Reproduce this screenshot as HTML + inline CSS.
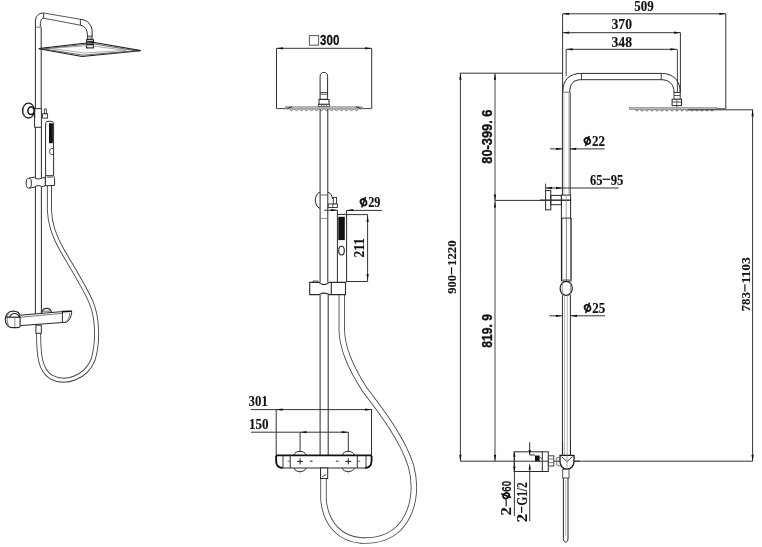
<!DOCTYPE html>
<html><head><meta charset="utf-8"><style>
html,body{margin:0;padding:0;background:#fff;}
svg{display:block;filter:grayscale(100%);}
</style></head><body>
<svg width="762" height="547" viewBox="0 0 762 547">
<rect width="762" height="547" fill="#fff"/>
<path d="M49.4,186 L49.4,210 C49.8,225 55,238 62,250 C70,264 84,286 91,302 C97,316 99,340 93,360 C86,377 66,385 51,377 C40,370 38.6,355 38.6,333" stroke="#444" stroke-width="5.0" fill="none" stroke-linecap="butt"/>
<path d="M49.4,186 L49.4,210 C49.8,225 55,238 62,250 C70,264 84,286 91,302 C97,316 99,340 93,360 C86,377 66,385 51,377 C40,370 38.6,355 38.6,333" stroke="#fff" stroke-width="3.2" fill="none" stroke-linecap="butt"/>
<path d="M35.4,27.2 L35.4,22 C35.4,16 38.5,13 43.6,13" stroke="#2a2a2a" stroke-width="1.0" fill="none" />
<path d="M40.3,27.2 L40.3,25.3 C40.3,21 41.5,18.2 43.6,18.2" stroke="#2a2a2a" stroke-width="1.0" fill="none" />
<line x1="35.4" y1="27.2" x2="40.3" y2="27.2" stroke="#555" stroke-width="0.8"/>
<line x1="43.6" y1="13" x2="43.6" y2="18.2" stroke="#2a2a2a" stroke-width="0.9"/>
<line x1="43.6" y1="13" x2="80.4" y2="19.3" stroke="#444" stroke-width="0.9"/>
<line x1="43.6" y1="18.2" x2="80.4" y2="25.2" stroke="#444" stroke-width="0.9"/>
<line x1="80.4" y1="19.3" x2="80.4" y2="25.2" stroke="#2a2a2a" stroke-width="0.9"/>
<path d="M80.4,19.3 C88,20 92.1,25 92.1,31.8 L92.1,36.1" stroke="#2a2a2a" stroke-width="1.0" fill="none" />
<path d="M80.4,25.2 C85,26 87.4,30 87.4,35.4 L87.4,36.1" stroke="#2a2a2a" stroke-width="1.0" fill="none" />
<rect x="87.4" y="36.1" width="4.7" height="3.6" stroke="#2a2a2a" stroke-width="0.9" fill="none"/>
<line x1="87.4" y1="38" x2="92.1" y2="38" stroke="#2a2a2a" stroke-width="0.7"/>
<rect x="86.6" y="39.7" width="6.8" height="8.2" stroke="#222" stroke-width="1.1" fill="#fff"/>
<line x1="86.6" y1="41.6" x2="93.4" y2="41.6" stroke="#222" stroke-width="1.0"/>
<line x1="86.6" y1="44.4" x2="93.4" y2="44.4" stroke="#111" stroke-width="1.4"/>
<path d="M38.7,48.6 L93,42.3 L140.8,50.6 L82,56.5 Z" stroke="#222" stroke-width="1.1" fill="none" />
<path d="M43,48.9 L92,43.6 L136,50.8 L83,55.2 Z" stroke="#555" stroke-width="0.9" fill="none" />
<path d="M50,48.4 L90,45.6 L126,50.4 L84,53.0 Z" stroke="#888" stroke-width="0.7" fill="none" />
<line x1="35.4" y1="27.2" x2="35.4" y2="315" stroke="#2a2a2a" stroke-width="1.0"/>
<line x1="41.2" y1="27.2" x2="41.2" y2="108.6" stroke="#2a2a2a" stroke-width="1.0"/>
<line x1="41.4" y1="127.3" x2="41.4" y2="315" stroke="#2a2a2a" stroke-width="1.0"/>
<rect x="34.6" y="108.6" width="6.8" height="18.7" stroke="#2a2a2a" stroke-width="1.0" fill="#fff"/>
<ellipse cx="28.5" cy="110.6" rx="6" ry="7.4" stroke="#222" stroke-width="1.3" fill="#fff"/>
<ellipse cx="31" cy="110.8" rx="3.1" ry="3.7" stroke="#111" stroke-width="1.5" fill="#fff"/>
<path d="M25,104.5 C22.5,108 22.5,113 25,117" stroke="#555" stroke-width="0.8" fill="none" />
<line x1="34.6" y1="108.6" x2="34.6" y2="118" stroke="#2a2a2a" stroke-width="1.2"/>
<rect x="42.6" y="113.7" width="5" height="4.4" stroke="#2a2a2a" stroke-width="0.9" fill="none"/>
<rect x="44.3" y="109" width="2" height="4.7" stroke="#2a2a2a" stroke-width="0.8" fill="none"/>
<path d="M45.6,175.5 L45.6,123.5 C45.6,121.6 47,121.3 49.6,121.3 C52.4,121.3 53.6,121.6 53.6,123.5 L53.6,175.5" stroke="#2a2a2a" stroke-width="1.0" fill="none" />
<rect x="49" y="123.3" width="3.9" height="19.9" stroke="#2a2a2a" stroke-width="0" fill="#111"/>
<path d="M53,148.2 C50.5,148.2 49.6,150 49.6,151.5 C49.6,153 50.5,154.7 53,154.7" stroke="#2a2a2a" stroke-width="0.9" fill="none" />
<path d="M29,178.2 L34.3,177.2 C35.5,179.2 40,179.6 41.4,178.2 L45.4,177.4 L45.4,185.8 L41.5,186.6 C40.5,185.2 36,185.2 34.3,187.2 L29,188.2" stroke="#2a2a2a" stroke-width="1.0" fill="#fff" />
<ellipse cx="28.8" cy="183.2" rx="2.6" ry="5.0" stroke="#2a2a2a" stroke-width="1" fill="#fff"/>
<path d="M45.4,175.6 L53.6,175.6 C54.4,176.5 54.6,178 54.6,180 L54.6,185.4 L45.4,185.8 Z" stroke="#2a2a2a" stroke-width="1.0" fill="#fff" />
<rect x="47" y="175.8" width="6" height="2.2" stroke="#2a2a2a" stroke-width="0" fill="#999"/>
<path d="M20.3,315.2 L62.2,311.6 L71.7,311.3 C71.7,315 70.5,319.5 66.5,322.2 L62.2,322.5 L20.3,325.6" stroke="#2a2a2a" stroke-width="1.0" fill="#fff" />
<line x1="20.3" y1="317.2" x2="62.2" y2="313.4" stroke="#555" stroke-width="0.8"/>
<line x1="62.4" y1="311.8" x2="62.4" y2="322.5" stroke="#2a2a2a" stroke-width="1.0"/>
<line x1="62.2" y1="311.6" x2="71.7" y2="311.3" stroke="#111" stroke-width="1.6"/>
<path d="M69.8,313 C69.5,316.5 68.6,319.5 65.8,321.8" stroke="#555" stroke-width="0.8" fill="none" />
<path d="M20.1,326 L20.1,317 C20.1,313 17,311.1 13,311.1 C8,311.1 5.3,315 5.3,319.5 C5.3,324 8,327.6 12,327.6 L17,327.6 C19,327.6 20.1,327 20.1,326 Z" stroke="#2a2a2a" stroke-width="1.1" fill="#fff" />
<line x1="5.3" y1="317.2" x2="20.1" y2="317.2" stroke="#222" stroke-width="1.2"/>
<path d="M9.5,317.2 C10.5,314.5 12.5,313.5 14.5,313.5 C16.5,313.5 18.5,314.5 19.5,317.2" stroke="#222" stroke-width="1.1" fill="none" />
<line x1="14.9" y1="318" x2="14.9" y2="326.8" stroke="#777" stroke-width="0.8"/>
<path d="M8.8,312.6 C6.6,316 6.6,323 9.2,326.5" stroke="#555" stroke-width="0.8" fill="none" />
<path d="M41.7,313.2 C42.2,310 44.5,308.4 46.6,308.4 C49,308.4 51,310 51.6,312.4" stroke="#2a2a2a" stroke-width="1.1" fill="none" />
<line x1="43" y1="311.2" x2="50.5" y2="311.2" stroke="#444" stroke-width="0.8"/>
<rect x="35.9" y="325.2" width="5.4" height="8.1" stroke="#2a2a2a" stroke-width="1.0" fill="#fff"/>
<path d="M341.8,294.8 L341.8,330 C342,350 352,370 365,390 C382,412 403,440 411,466 C417,488 414,512 399,528 C388,539 373,541 361,540.5 C341,539 326,525 323.5,500 L323.5,478" stroke="#444" stroke-width="6.4" fill="none" stroke-linecap="butt"/>
<path d="M341.8,294.8 L341.8,330 C342,350 352,370 365,390 C382,412 403,440 411,466 C417,488 414,512 399,528 C388,539 373,541 361,540.5 C341,539 326,525 323.5,500 L323.5,478" stroke="#fff" stroke-width="4.7" fill="none" stroke-linecap="butt"/>
<line x1="276.5" y1="48.3" x2="371.7" y2="48.3" stroke="#333" stroke-width="1.0"/>
<polygon points="276.50,48.30 283.00,47.15 283.00,49.45" fill="#111"/>
<polygon points="371.70,48.30 365.20,47.15 365.20,49.45" fill="#111"/>
<line x1="276.5" y1="48.3" x2="276.5" y2="108.6" stroke="#333" stroke-width="1.0"/>
<line x1="371.7" y1="48.3" x2="371.7" y2="108.6" stroke="#333" stroke-width="1.0"/>
<rect x="309.4" y="35.6" width="9.2" height="9.6" stroke="#555" stroke-width="1.0" fill="none"/>
<g class="lbl" transform="translate(320.1,45.1)"><text x="0.00" y="0" font-family='"Liberation Sans", sans-serif' font-weight="bold" font-size="14.85" textLength="19.20" lengthAdjust="spacingAndGlyphs" fill="#111" stroke="#111" stroke-width="0.3">300</text></g>
<path d="M320.1,106.6 L320.1,76.5 C320.1,73.8 321.5,72.4 323.85,72.4 C326.2,72.4 327.6,73.8 327.6,76.5 L327.6,106.6" stroke="#2a2a2a" stroke-width="1.0" fill="none" />
<line x1="320.1" y1="92.5" x2="327.6" y2="92.5" stroke="#2a2a2a" stroke-width="0.8"/>
<line x1="320.1" y1="94.2" x2="327.6" y2="94.2" stroke="#2a2a2a" stroke-width="0.8"/>
<line x1="320.1" y1="99.2" x2="327.6" y2="99.2" stroke="#2a2a2a" stroke-width="0.8"/>
<rect x="319" y="99.5" width="10" height="4.8" stroke="#2a2a2a" stroke-width="1.0" fill="#fff"/>
<rect x="318.5" y="104.3" width="11" height="2.3" stroke="#2a2a2a" stroke-width="0.8" fill="#fff"/>
<line x1="321.6" y1="104.3" x2="321.6" y2="106.6" stroke="#2a2a2a" stroke-width="0.7"/>
<line x1="324.0" y1="104.3" x2="324.0" y2="106.6" stroke="#2a2a2a" stroke-width="0.7"/>
<line x1="326.4" y1="104.3" x2="326.4" y2="106.6" stroke="#2a2a2a" stroke-width="0.7"/>
<rect x="285.3" y="106.8" width="77.3" height="2.2" stroke="#777" stroke-width="0.6" fill="#bbb"/>
<line x1="276.5" y1="108.6" x2="285.3" y2="108.6" stroke="#444" stroke-width="1.0"/>
<line x1="362.6" y1="108.6" x2="371.7" y2="108.6" stroke="#444" stroke-width="1.0"/>
<path d="M290.0,109.0 C290.0,111.2 293.0,111.2 293.0,109.0" stroke="#555" stroke-width="0.8" fill="none" />
<path d="M295.0,109.0 C295.0,111.2 298.0,111.2 298.0,109.0" stroke="#555" stroke-width="0.8" fill="none" />
<path d="M300.0,109.0 C300.0,111.2 303.0,111.2 303.0,109.0" stroke="#555" stroke-width="0.8" fill="none" />
<path d="M305.0,109.0 C305.0,111.2 308.0,111.2 308.0,109.0" stroke="#555" stroke-width="0.8" fill="none" />
<path d="M310.0,109.0 C310.0,111.2 313.0,111.2 313.0,109.0" stroke="#555" stroke-width="0.8" fill="none" />
<path d="M315.0,109.0 C315.0,111.2 318.0,111.2 318.0,109.0" stroke="#555" stroke-width="0.8" fill="none" />
<path d="M320.0,109.0 C320.0,111.2 323.0,111.2 323.0,109.0" stroke="#555" stroke-width="0.8" fill="none" />
<path d="M325.0,109.0 C325.0,111.2 328.0,111.2 328.0,109.0" stroke="#555" stroke-width="0.8" fill="none" />
<path d="M330.0,109.0 C330.0,111.2 333.0,111.2 333.0,109.0" stroke="#555" stroke-width="0.8" fill="none" />
<path d="M335.0,109.0 C335.0,111.2 338.0,111.2 338.0,109.0" stroke="#555" stroke-width="0.8" fill="none" />
<path d="M340.0,109.0 C340.0,111.2 343.0,111.2 343.0,109.0" stroke="#555" stroke-width="0.8" fill="none" />
<path d="M345.0,109.0 C345.0,111.2 348.0,111.2 348.0,109.0" stroke="#555" stroke-width="0.8" fill="none" />
<path d="M350.0,109.0 C350.0,111.2 353.0,111.2 353.0,109.0" stroke="#555" stroke-width="0.8" fill="none" />
<path d="M355.0,109.0 C355.0,111.2 358.0,111.2 358.0,109.0" stroke="#555" stroke-width="0.8" fill="none" />
<path d="M287,108.5 L292,106.8" stroke="#222" stroke-width="1.0" fill="none" />
<path d="M361,108.5 L356,106.8" stroke="#222" stroke-width="1.0" fill="none" />
<line x1="320.1" y1="109.2" x2="320.1" y2="282.4" stroke="#2a2a2a" stroke-width="1.0"/>
<line x1="327.8" y1="109.2" x2="327.8" y2="282.4" stroke="#2a2a2a" stroke-width="1.0"/>
<path d="M320.1,192 C314,194 313.5,206 320.1,208.5" stroke="#2a2a2a" stroke-width="1.0" fill="none" />
<path d="M327.8,192 C331,193.5 332.3,196 332.4,199" stroke="#2a2a2a" stroke-width="1.0" fill="none" />
<line x1="320.1" y1="195" x2="327.8" y2="195" stroke="#444" stroke-width="0.8"/>
<line x1="320.1" y1="218.4" x2="327.8" y2="218.4" stroke="#777" stroke-width="0.8"/>
<rect x="333.3" y="197.4" width="3.2" height="6.6" stroke="#2a2a2a" stroke-width="0.9" fill="#fff"/>
<rect x="328.2" y="204" width="9.2" height="3.5" stroke="#2a2a2a" stroke-width="0.9" fill="#fff"/>
<line x1="332.8" y1="204" x2="332.8" y2="207.5" stroke="#2a2a2a" stroke-width="0.8"/>
<line x1="324.2" y1="210.2" x2="337.4" y2="210.2" stroke="#333" stroke-width="1.0"/>
<polygon points="337.40,210.20 330.90,209.05 330.90,211.35" fill="#111"/>
<line x1="346.6" y1="210.4" x2="382.1" y2="210.4" stroke="#333" stroke-width="1.0"/>
<polygon points="346.60,210.20 353.10,209.05 353.10,211.35" fill="#111"/>
<g class="lbl" transform="translate(360,207.2)"><ellipse cx="3.60" cy="-4.90" rx="2.70" ry="3.40" transform="rotate(-35 3.60 -4.90)" stroke="#111" stroke-width="1.8" fill="none"/><line x1="5.50" y1="-10.10" x2="1.70" y2="0.30" stroke="#111" stroke-width="1.6"/><text x="8.20" y="0" font-family='"Liberation Serif", serif' font-weight="bold" font-size="14.41" textLength="12.20" lengthAdjust="spacingAndGlyphs" fill="#111" stroke="#111" stroke-width="0.12">29</text></g>
<line x1="337.4" y1="210.2" x2="337.4" y2="282.4" stroke="#2a2a2a" stroke-width="1.0"/>
<line x1="346.6" y1="210.2" x2="346.6" y2="282.4" stroke="#2a2a2a" stroke-width="1.0"/>
<line x1="337.4" y1="214.4" x2="346.6" y2="214.4" stroke="#2a2a2a" stroke-width="1.0"/>
<rect x="338.3" y="216.8" width="6.5" height="23.3" stroke="#2a2a2a" stroke-width="0" fill="#111"/>
<ellipse cx="341.5" cy="250.6" rx="2.8" ry="4.4" stroke="#2a2a2a" stroke-width="1.1" fill="none"/>
<line x1="346.6" y1="214.6" x2="367.6" y2="214.6" stroke="#333" stroke-width="1.0"/>
<line x1="346.6" y1="281.5" x2="367.6" y2="281.5" stroke="#333" stroke-width="1.0"/>
<line x1="367.6" y1="214.6" x2="367.6" y2="281.5" stroke="#333" stroke-width="1.0"/>
<polygon points="367.60,215.60 366.45,222.10 368.75,222.10" fill="#111"/>
<polygon points="367.60,280.50 366.45,274.00 368.75,274.00" fill="#111"/>
<g class="lbl" transform="translate(364.1,257.6) rotate(-90)"><text x="0.00" y="0" font-family='"Liberation Serif", serif' font-weight="bold" font-size="14.12" textLength="19.70" lengthAdjust="spacingAndGlyphs" fill="#111" stroke="#111" stroke-width="0.12">211</text></g>
<path d="M309.7,282.4 L318.8,282.4 C320,282.4 320.5,284.6 324,284.6 C327.5,284.6 328,282.4 329.4,282.4 L345.5,282.4 L345.5,294.6 L329.4,294.6 C328,294.6 327.5,293.1 324,293.1 C320.5,293.1 320,294.6 318.8,294.6 L309.7,294.6 Z" stroke="#2a2a2a" stroke-width="1.1" fill="#fff" />
<line x1="331.3" y1="282.4" x2="331.3" y2="294.6" stroke="#2a2a2a" stroke-width="1.1"/>
<path d="M313,282.4 L313,281 L318,281 L318,282.4" stroke="#2a2a2a" stroke-width="0.8" fill="none" />
<line x1="320.1" y1="294.6" x2="320.1" y2="455.4" stroke="#2a2a2a" stroke-width="1.0"/>
<line x1="328.2" y1="294.6" x2="328.2" y2="455.4" stroke="#2a2a2a" stroke-width="1.0"/>
<g class="lbl" transform="translate(248.6,406.2)"><text x="0.00" y="0" font-family='"Liberation Serif", serif' font-weight="bold" font-size="14.71" textLength="19.20" lengthAdjust="spacingAndGlyphs" fill="#111" stroke="#111" stroke-width="0.12">301</text></g>
<line x1="250.8" y1="409.6" x2="371.9" y2="409.6" stroke="#333" stroke-width="1.0"/>
<polygon points="276.20,409.60 282.70,408.45 282.70,410.75" fill="#111"/>
<polygon points="371.50,409.60 365.00,408.45 365.00,410.75" fill="#111"/>
<line x1="276.2" y1="409.6" x2="276.2" y2="455.4" stroke="#333" stroke-width="1.0"/>
<line x1="371.5" y1="409.6" x2="371.5" y2="455.4" stroke="#333" stroke-width="1.0"/>
<g class="lbl" transform="translate(249.0,428.8)"><text x="0.00" y="0" font-family='"Liberation Serif", serif' font-weight="bold" font-size="14.56" textLength="19.60" lengthAdjust="spacingAndGlyphs" fill="#111" stroke="#111" stroke-width="0.12">150</text></g>
<line x1="251" y1="432.2" x2="348.3" y2="432.2" stroke="#333" stroke-width="1.0"/>
<polygon points="300.10,432.20 306.60,431.05 306.60,433.35" fill="#111"/>
<polygon points="348.30,432.20 341.80,431.05 341.80,433.35" fill="#111"/>
<line x1="300.1" y1="432.2" x2="300.1" y2="452" stroke="#333" stroke-width="1.0"/>
<line x1="348.3" y1="432.2" x2="348.3" y2="452" stroke="#333" stroke-width="1.0"/>
<path d="M294,455.4 C294.5,452.5 297,451.3 300,451.3 C303,451.3 305.5,452.5 306,455.4" stroke="#2a2a2a" stroke-width="1.0" fill="none" />
<path d="M342.3,455.4 C342.8,452.5 345.3,451.3 348.3,451.3 C351.3,451.3 353.8,452.5 354.3,455.4" stroke="#2a2a2a" stroke-width="1.0" fill="none" />
<path d="M294,468 C294.5,470.5 297,471.5 300,471.5 C303,471.5 305.5,470.5 306,468" stroke="#2a2a2a" stroke-width="1.0" fill="none" />
<path d="M342.3,468 C342.8,470.5 345.3,471.5 348.3,471.5 C351.3,471.5 353.8,470.5 354.3,468" stroke="#2a2a2a" stroke-width="1.0" fill="none" />
<path d="M276,455.4 L276,461 C276,465.5 278,468 282,468 L366,468 C370,468 371.7,465.5 371.7,461 L371.7,455.4" stroke="#2a2a2a" stroke-width="1.0" fill="none" />
<line x1="276" y1="455.4" x2="371.7" y2="455.4" stroke="#111" stroke-width="1.6"/>
<line x1="283" y1="455.4" x2="283" y2="468" stroke="#2a2a2a" stroke-width="0.9"/>
<line x1="290.2" y1="455.4" x2="290.2" y2="468" stroke="#2a2a2a" stroke-width="1.0"/>
<line x1="357.3" y1="455.4" x2="357.3" y2="468" stroke="#2a2a2a" stroke-width="1.0"/>
<line x1="366" y1="455.4" x2="366" y2="468" stroke="#2a2a2a" stroke-width="0.9"/>
<line x1="287.6" y1="461.2" x2="289.6" y2="461.2" stroke="#2a2a2a" stroke-width="0.8"/>
<line x1="358.2" y1="461.2" x2="360.2" y2="461.2" stroke="#2a2a2a" stroke-width="0.8"/>
<path d="M276.2,456 L276.2,461 C276.2,465 278.5,467.6 282.5,467.8" stroke="#111" stroke-width="1.7" fill="none" />
<path d="M371.5,456 L371.5,461 C371.5,465 369.2,467.6 365.2,467.8" stroke="#111" stroke-width="1.7" fill="none" />
<line x1="297.1" y1="461.4" x2="303.1" y2="461.4" stroke="#222" stroke-width="1.0"/>
<line x1="300.1" y1="458.4" x2="300.1" y2="464.4" stroke="#222" stroke-width="1.0"/>
<line x1="345.3" y1="461.4" x2="351.3" y2="461.4" stroke="#222" stroke-width="1.0"/>
<line x1="348.3" y1="458.4" x2="348.3" y2="464.4" stroke="#222" stroke-width="1.0"/>
<line x1="309.8" y1="461.2" x2="312.6" y2="461.2" stroke="#222" stroke-width="1.0"/>
<line x1="335.8" y1="461.2" x2="338.6" y2="461.2" stroke="#222" stroke-width="1.0"/>
<line x1="300.1" y1="471.5" x2="300.1" y2="474" stroke="#888" stroke-width="0.7"/>
<line x1="348.3" y1="471.5" x2="348.3" y2="474" stroke="#888" stroke-width="0.7"/>
<rect x="320.5" y="468" width="7.2" height="10.5" stroke="#2a2a2a" stroke-width="1.0" fill="#fff"/>
<path d="M322,477 L326,474.5" stroke="#2a2a2a" stroke-width="0.8" fill="none" />
<g class="lbl" transform="translate(634.2,11.0)"><text x="0.00" y="0" font-family='"Liberation Serif", serif' font-weight="bold" font-size="14.26" textLength="19.40" lengthAdjust="spacingAndGlyphs" fill="#111" stroke="#111" stroke-width="0.12">509</text></g>
<line x1="562.6" y1="13.8" x2="725.8" y2="13.8" stroke="#333" stroke-width="1.0"/>
<polygon points="562.60,13.80 569.10,12.65 569.10,14.95" fill="#111"/>
<polygon points="725.80,13.80 719.30,12.65 719.30,14.95" fill="#111"/>
<g class="lbl" transform="translate(611.5,29.4)"><text x="0.00" y="0" font-family='"Liberation Serif", serif' font-weight="bold" font-size="13.82" textLength="20.50" lengthAdjust="spacingAndGlyphs" fill="#111" stroke="#111" stroke-width="0.12">370</text></g>
<line x1="562.6" y1="32.7" x2="680.5" y2="32.7" stroke="#333" stroke-width="1.0"/>
<polygon points="562.60,32.70 569.10,31.55 569.10,33.85" fill="#111"/>
<polygon points="680.50,32.70 674.00,31.55 674.00,33.85" fill="#111"/>
<g class="lbl" transform="translate(611.5,46.5)"><text x="0.00" y="0" font-family='"Liberation Serif", serif' font-weight="bold" font-size="15.59" textLength="20.50" lengthAdjust="spacingAndGlyphs" fill="#111" stroke="#111" stroke-width="0.12">348</text></g>
<line x1="566.2" y1="49.3" x2="676.8" y2="49.3" stroke="#333" stroke-width="1.0"/>
<polygon points="566.20,49.30 572.70,48.15 572.70,50.45" fill="#111"/>
<polygon points="676.80,49.30 670.30,48.15 670.30,50.45" fill="#111"/>
<line x1="562.6" y1="13.8" x2="562.6" y2="92" stroke="#333" stroke-width="1.0"/>
<line x1="566.2" y1="49.3" x2="566.2" y2="76" stroke="#444" stroke-width="1.0"/>
<line x1="680.4" y1="32.7" x2="680.4" y2="92.5" stroke="#333" stroke-width="1.0"/>
<line x1="677.4" y1="49.3" x2="677.4" y2="92.5" stroke="#444" stroke-width="1.0"/>
<line x1="725.8" y1="13.8" x2="725.8" y2="108.8" stroke="#333" stroke-width="1.0"/>
<path d="M562.8,92 C562.8,80 569,73.4 581.5,73.4 L661.2,73.4 C673,73.4 680.2,80 680.2,92.5" stroke="#2a2a2a" stroke-width="1.0" fill="none" />
<path d="M569.7,92.5 C569.7,84 573,79.7 581.5,79.7 L661.2,79.7 C669,79.7 674,84 674,92.5" stroke="#2a2a2a" stroke-width="1.0" fill="none" />
<line x1="581.5" y1="73.4" x2="581.5" y2="79.7" stroke="#2a2a2a" stroke-width="0.9"/>
<line x1="661.2" y1="73.4" x2="661.2" y2="79.7" stroke="#2a2a2a" stroke-width="0.9"/>
<line x1="562.8" y1="92.2" x2="569.7" y2="92.2" stroke="#555" stroke-width="0.8"/>
<rect x="674" y="92.5" width="6.2" height="6.8" stroke="#2a2a2a" stroke-width="0.9" fill="none"/>
<line x1="674" y1="95.5" x2="680.2" y2="95.5" stroke="#2a2a2a" stroke-width="0.8"/>
<rect x="672.1" y="99.2" width="9.4" height="6.4" stroke="#2a2a2a" stroke-width="1.0" fill="#fff"/>
<line x1="672.1" y1="102" x2="681.5" y2="102" stroke="#2a2a2a" stroke-width="0.8"/>
<line x1="676.8" y1="99.2" x2="676.8" y2="110" stroke="#444" stroke-width="0.8"/>
<rect x="629.3" y="107.6" width="87.5" height="2.0" stroke="#777" stroke-width="0.6" fill="#bbb"/>
<path d="M635.5,109.6 C635.5,111.4 638.5,111.4 638.5,109.6" stroke="#555" stroke-width="0.8" fill="none" />
<path d="M640.5,109.6 C640.5,111.4 643.5,111.4 643.5,109.6" stroke="#555" stroke-width="0.8" fill="none" />
<path d="M645.5,109.6 C645.5,111.4 648.5,111.4 648.5,109.6" stroke="#555" stroke-width="0.8" fill="none" />
<path d="M650.5,109.6 C650.5,111.4 653.5,111.4 653.5,109.6" stroke="#555" stroke-width="0.8" fill="none" />
<path d="M655.5,109.6 C655.5,111.4 658.5,111.4 658.5,109.6" stroke="#555" stroke-width="0.8" fill="none" />
<path d="M660.5,109.6 C660.5,111.4 663.5,111.4 663.5,109.6" stroke="#555" stroke-width="0.8" fill="none" />
<path d="M665.5,109.6 C665.5,111.4 668.5,111.4 668.5,109.6" stroke="#555" stroke-width="0.8" fill="none" />
<path d="M670.5,109.6 C670.5,111.4 673.5,111.4 673.5,109.6" stroke="#555" stroke-width="0.8" fill="none" />
<path d="M675.5,109.6 C675.5,111.4 678.5,111.4 678.5,109.6" stroke="#555" stroke-width="0.8" fill="none" />
<path d="M680.5,109.6 C680.5,111.4 683.5,111.4 683.5,109.6" stroke="#555" stroke-width="0.8" fill="none" />
<path d="M685.5,109.6 C685.5,111.4 688.5,111.4 688.5,109.6" stroke="#555" stroke-width="0.8" fill="none" />
<path d="M690.5,109.6 C690.5,111.4 693.5,111.4 693.5,109.6" stroke="#555" stroke-width="0.8" fill="none" />
<path d="M695.5,109.6 C695.5,111.4 698.5,111.4 698.5,109.6" stroke="#555" stroke-width="0.8" fill="none" />
<path d="M700.5,109.6 C700.5,111.4 703.5,111.4 703.5,109.6" stroke="#555" stroke-width="0.8" fill="none" />
<path d="M705.5,109.6 C705.5,111.4 708.5,111.4 708.5,109.6" stroke="#555" stroke-width="0.8" fill="none" />
<path d="M710.5,109.6 C710.5,111.4 713.5,111.4 713.5,109.6" stroke="#555" stroke-width="0.8" fill="none" />
<line x1="716.8" y1="108.8" x2="725.8" y2="108.8" stroke="#444" stroke-width="1.0"/>
<line x1="688" y1="109.8" x2="753.1" y2="109.8" stroke="#333" stroke-width="1.0"/>
<line x1="752.6" y1="109.8" x2="752.6" y2="461.2" stroke="#333" stroke-width="1.0"/>
<polygon points="752.60,109.80 751.45,116.30 753.75,116.30" fill="#111"/>
<polygon points="752.60,461.20 751.45,454.70 753.75,454.70" fill="#111"/>
<g class="lbl" transform="translate(749.9,311.4) rotate(-90)"><text x="0.00" y="0" font-family='"Liberation Serif", serif' font-weight="bold" font-size="13.38" textLength="19.30" lengthAdjust="spacingAndGlyphs" fill="#111" stroke="#111" stroke-width="0.12">783</text><line x1="19.80" y1="-5.01" x2="27.20" y2="-5.01" stroke="#111" stroke-width="1.2"/><text x="27.80" y="0" font-family='"Liberation Serif", serif' font-weight="bold" font-size="13.38" textLength="26.50" lengthAdjust="spacingAndGlyphs" fill="#111" stroke="#111" stroke-width="0.12">1103</text></g>
<line x1="459.8" y1="73.2" x2="562.8" y2="73.2" stroke="#333" stroke-width="1.0"/>
<line x1="460.4" y1="73.2" x2="460.4" y2="461.2" stroke="#333" stroke-width="1.0"/>
<polygon points="460.40,73.20 459.25,79.70 461.55,79.70" fill="#111"/>
<polygon points="460.40,461.20 459.25,454.70 461.55,454.70" fill="#111"/>
<line x1="495.0" y1="73.2" x2="495.0" y2="461.2" stroke="#444" stroke-width="1.0"/>
<polygon points="495.00,73.20 493.85,79.70 496.15,79.70" fill="#111"/>
<polygon points="495.00,201.00 493.85,194.50 496.15,194.50" fill="#111"/>
<polygon points="495.00,201.00 493.85,207.50 496.15,207.50" fill="#111"/>
<polygon points="495.00,461.20 493.85,454.70 496.15,454.70" fill="#111"/>
<line x1="495.0" y1="200.4" x2="571.2" y2="200.4" stroke="#333" stroke-width="1.0"/>
<line x1="460.4" y1="461.2" x2="752.6" y2="461.2" stroke="#333" stroke-width="1.0"/>
<g class="lbl" transform="translate(456.4,293.8) rotate(-90)"><text x="0.00" y="0" font-family='"Liberation Serif", serif' font-weight="bold" font-size="12.94" textLength="18.70" lengthAdjust="spacingAndGlyphs" fill="#111" stroke="#111" stroke-width="0.12">900</text><line x1="19.30" y1="-4.84" x2="26.60" y2="-4.84" stroke="#111" stroke-width="1.2"/><text x="27.80" y="0" font-family='"Liberation Serif", serif' font-weight="bold" font-size="12.94" textLength="25.70" lengthAdjust="spacingAndGlyphs" fill="#111" stroke="#111" stroke-width="0.12">1220</text></g>
<g class="lbl" transform="translate(492.0,163.7) rotate(-90)"><text x="0.00" y="0" font-family='"Liberation Sans", sans-serif' font-weight="bold" font-size="15.15" textLength="54.10" lengthAdjust="spacingAndGlyphs" fill="#111" stroke="#111" stroke-width="0.35">80-399. 6</text></g>
<g class="lbl" transform="translate(492.0,347.7) rotate(-90)"><text x="0.00" y="0" font-family='"Liberation Sans", sans-serif' font-weight="bold" font-size="15.15" textLength="33.60" lengthAdjust="spacingAndGlyphs" fill="#111" stroke="#111" stroke-width="0.35">819. 9</text></g>
<line x1="562.4" y1="92" x2="562.4" y2="195.1" stroke="#2a2a2a" stroke-width="1.0"/>
<line x1="570.2" y1="92.5" x2="570.2" y2="195.1" stroke="#2a2a2a" stroke-width="1.0"/>
<line x1="563.9" y1="92.5" x2="563.9" y2="195.1" stroke="#999" stroke-width="0.7"/>
<line x1="568.8" y1="92.5" x2="568.8" y2="195.1" stroke="#999" stroke-width="0.7"/>
<line x1="550" y1="148.9" x2="562.6" y2="148.9" stroke="#333" stroke-width="1.0"/>
<polygon points="562.60,148.90 556.10,147.75 556.10,150.05" fill="#111"/>
<line x1="569.7" y1="148.9" x2="604.6" y2="148.9" stroke="#333" stroke-width="1.0"/>
<polygon points="569.70,148.90 576.20,147.75 576.20,150.05" fill="#111"/>
<g class="lbl" transform="translate(583.8,145.7)"><ellipse cx="3.60" cy="-4.70" rx="2.70" ry="3.20" transform="rotate(-35 3.60 -4.70)" stroke="#111" stroke-width="1.8" fill="none"/><line x1="5.50" y1="-9.70" x2="1.70" y2="0.30" stroke="#111" stroke-width="1.6"/><text x="8.20" y="0" font-family='"Liberation Serif", serif' font-weight="bold" font-size="13.82" textLength="13.00" lengthAdjust="spacingAndGlyphs" fill="#111" stroke="#111" stroke-width="0.12">22</text></g>
<g class="lbl" transform="translate(590.0,184.5)"><text x="0.00" y="0" font-family='"Liberation Serif", serif' font-weight="bold" font-size="13.97" textLength="12.40" lengthAdjust="spacingAndGlyphs" fill="#111" stroke="#111" stroke-width="0.12">65</text><line x1="12.60" y1="-5.23" x2="20.10" y2="-5.23" stroke="#111" stroke-width="1.2"/><text x="20.70" y="0" font-family='"Liberation Serif", serif' font-weight="bold" font-size="13.97" textLength="12.70" lengthAdjust="spacingAndGlyphs" fill="#111" stroke="#111" stroke-width="0.12">95</text></g>
<line x1="545.6" y1="188.0" x2="618.6" y2="188.0" stroke="#333" stroke-width="1.0"/>
<polygon points="545.60,188.00 552.10,186.85 552.10,189.15" fill="#111"/>
<polygon points="562.60,188.00 556.10,186.85 556.10,189.15" fill="#111"/>
<line x1="545.6" y1="183.5" x2="545.6" y2="190.6" stroke="#333" stroke-width="0.9"/>
<rect x="545.6" y="190.6" width="5.2" height="19.2" stroke="#2a2a2a" stroke-width="1.0" fill="none"/>
<rect x="550.8" y="195.4" width="10.6" height="9.3" stroke="#2a2a2a" stroke-width="1.0" fill="none"/>
<line x1="540" y1="200.0" x2="571.2" y2="200.0" stroke="#333" stroke-width="1.0"/>
<rect x="561.4" y="195.1" width="9.2" height="23.0" stroke="#2a2a2a" stroke-width="1.0" fill="none"/>
<line x1="566.2" y1="195.1" x2="566.2" y2="218.1" stroke="#888" stroke-width="0.7"/>
<line x1="561.6" y1="218.1" x2="561.6" y2="281.4" stroke="#222" stroke-width="1.4"/>
<line x1="566.4" y1="218.1" x2="566.4" y2="281.4" stroke="#666" stroke-width="0.8"/>
<line x1="571.0" y1="218.1" x2="571.0" y2="281.4" stroke="#222" stroke-width="1.3"/>
<rect x="563" y="280" width="6.2" height="2.2" stroke="#2a2a2a" stroke-width="0.8" fill="none"/>
<ellipse cx="566.2" cy="288.3" rx="6.1" ry="7" stroke="#1a1a1a" stroke-width="1.2" fill="#fff"/>
<line x1="562.3" y1="282" x2="562.3" y2="295" stroke="#777" stroke-width="0.7"/>
<line x1="570.4" y1="282" x2="570.4" y2="295" stroke="#777" stroke-width="0.7"/>
<line x1="562.4" y1="295.2" x2="562.4" y2="455.5" stroke="#2a2a2a" stroke-width="1.0"/>
<line x1="570.4" y1="295.2" x2="570.4" y2="455.5" stroke="#2a2a2a" stroke-width="1.0"/>
<line x1="564.6" y1="295.2" x2="564.6" y2="455.5" stroke="#999" stroke-width="0.7"/>
<line x1="567.3" y1="295.2" x2="567.3" y2="455.5" stroke="#999" stroke-width="0.7"/>
<line x1="549.4" y1="315.8" x2="562.3" y2="315.8" stroke="#333" stroke-width="1.0"/>
<polygon points="562.30,315.80 555.80,314.65 555.80,316.95" fill="#111"/>
<line x1="570.5" y1="315.8" x2="605.0" y2="315.8" stroke="#333" stroke-width="1.0"/>
<polygon points="570.50,315.80 577.00,314.65 577.00,316.95" fill="#111"/>
<g class="lbl" transform="translate(584,312.7)"><ellipse cx="3.60" cy="-4.80" rx="2.70" ry="3.30" transform="rotate(-35 3.60 -4.80)" stroke="#111" stroke-width="1.8" fill="none"/><line x1="5.50" y1="-9.90" x2="1.70" y2="0.30" stroke="#111" stroke-width="1.6"/><text x="8.20" y="0" font-family='"Liberation Serif", serif' font-weight="bold" font-size="14.12" textLength="13.00" lengthAdjust="spacingAndGlyphs" fill="#111" stroke="#111" stroke-width="0.12">25</text></g>
<rect x="514.2" y="451.8" width="34.1" height="19.7" stroke="#2a2a2a" stroke-width="1.0" fill="none"/>
<line x1="542.3" y1="451.8" x2="542.3" y2="471.5" stroke="#2a2a2a" stroke-width="1.0"/>
<line x1="514.4" y1="451.8" x2="514.4" y2="516" stroke="#333" stroke-width="1.0"/>
<polygon points="514.40,451.80 513.25,456.80 515.55,456.80" fill="#111"/>
<polygon points="514.40,471.50 513.25,466.50 515.55,466.50" fill="#111"/>
<line x1="529.7" y1="442.3" x2="529.7" y2="455.0" stroke="#333" stroke-width="1.0"/>
<polygon points="529.70,455.00 528.55,450.00 530.85,450.00" fill="#111"/>
<line x1="529.7" y1="455.0" x2="535" y2="455.0" stroke="#2a2a2a" stroke-width="1.0"/>
<line x1="529.7" y1="464.4" x2="529.7" y2="521.0" stroke="#333" stroke-width="1.0"/>
<polygon points="529.70,464.40 528.55,469.40 530.85,469.40" fill="#111"/>
<rect x="535" y="455.5" width="4.6" height="5.7" stroke="#2a2a2a" stroke-width="0" fill="#111"/>
<line x1="539.6" y1="457" x2="542.3" y2="459" stroke="#2a2a2a" stroke-width="0.8"/>
<rect x="548.4" y="455.8" width="5.4" height="10.2" stroke="#444" stroke-width="1.0" fill="#fff"/>
<line x1="548.4" y1="459.0" x2="553.8" y2="459.0" stroke="#555" stroke-width="0.8"/>
<line x1="548.4" y1="462.6" x2="553.8" y2="462.6" stroke="#555" stroke-width="0.8"/>
<path d="M560,455.4 L574,455.4 L574,461.5 C574,466 571,469.2 567,469.2 C563,469.2 560,466 560,461.5 Z" stroke="#1a1a1a" stroke-width="1.3" fill="#fff" />
<path d="M560,457 L556.8,457.8 L556.6,465 L560,466.2" stroke="#666" stroke-width="0.9" fill="none" />
<path d="M561.5,456.6 L567,461.6 L572.5,456.6" stroke="#333" stroke-width="0.9" fill="none" />
<line x1="574" y1="461.2" x2="580" y2="461.2" stroke="#333" stroke-width="1.0"/>
<line x1="567" y1="455.4" x2="567" y2="469" stroke="#888" stroke-width="0.7"/>
<rect x="562.7" y="469.4" width="6.3" height="8.6" stroke="#555" stroke-width="1.0" fill="#fff"/>
<line x1="562.6" y1="441" x2="562.6" y2="456" stroke="#2a2a2a" stroke-width="1.0"/>
<line x1="570.5" y1="441" x2="570.5" y2="456" stroke="#2a2a2a" stroke-width="1.0"/>
<path d="M563.4,478 L563.4,538.5 C563.4,541 564.3,542 565.7,542 C567.1,542 568,541 568,538.5 L568,478" stroke="#2a2a2a" stroke-width="1.0" fill="none" />
<line x1="565.7" y1="480" x2="565.7" y2="536" stroke="#999" stroke-width="0.7"/>
<g class="lbl" transform="translate(510.8,515.4) rotate(-90)"><text x="0.00" y="0" font-family='"Liberation Serif", serif' font-weight="bold" font-size="13.68" textLength="8.40" lengthAdjust="spacingAndGlyphs" fill="#111" stroke="#111" stroke-width="0.12">2</text><line x1="9.20" y1="-4.65" x2="15.80" y2="-4.65" stroke="#111" stroke-width="1.2"/><ellipse cx="19.75" cy="-4.65" rx="2.55" ry="3.15" transform="rotate(-35 19.75 -4.65)" stroke="#111" stroke-width="1.8" fill="none"/><line x1="21.65" y1="-9.60" x2="17.85" y2="0.30" stroke="#111" stroke-width="1.6"/><text x="23.70" y="0" font-family='"Liberation Sans", sans-serif' font-weight="bold" font-size="13.00" textLength="10.80" lengthAdjust="spacingAndGlyphs" fill="#111" stroke="#111" stroke-width="0.12">60</text></g>
<g class="lbl" transform="translate(526.6,522.3) rotate(-90)"><text x="0.00" y="0" font-family='"Liberation Serif", serif' font-weight="bold" font-size="14.56" textLength="8.40" lengthAdjust="spacingAndGlyphs" fill="#111" stroke="#111" stroke-width="0.12">2</text><line x1="9.40" y1="-4.95" x2="15.80" y2="-4.95" stroke="#111" stroke-width="1.2"/><text x="16.80" y="0" font-family='"Liberation Serif", serif' font-weight="bold" font-size="14.56" textLength="23.10" lengthAdjust="spacingAndGlyphs" fill="#111" stroke="#111" stroke-width="0.12">G1/2</text></g>
</svg>
</body></html>
